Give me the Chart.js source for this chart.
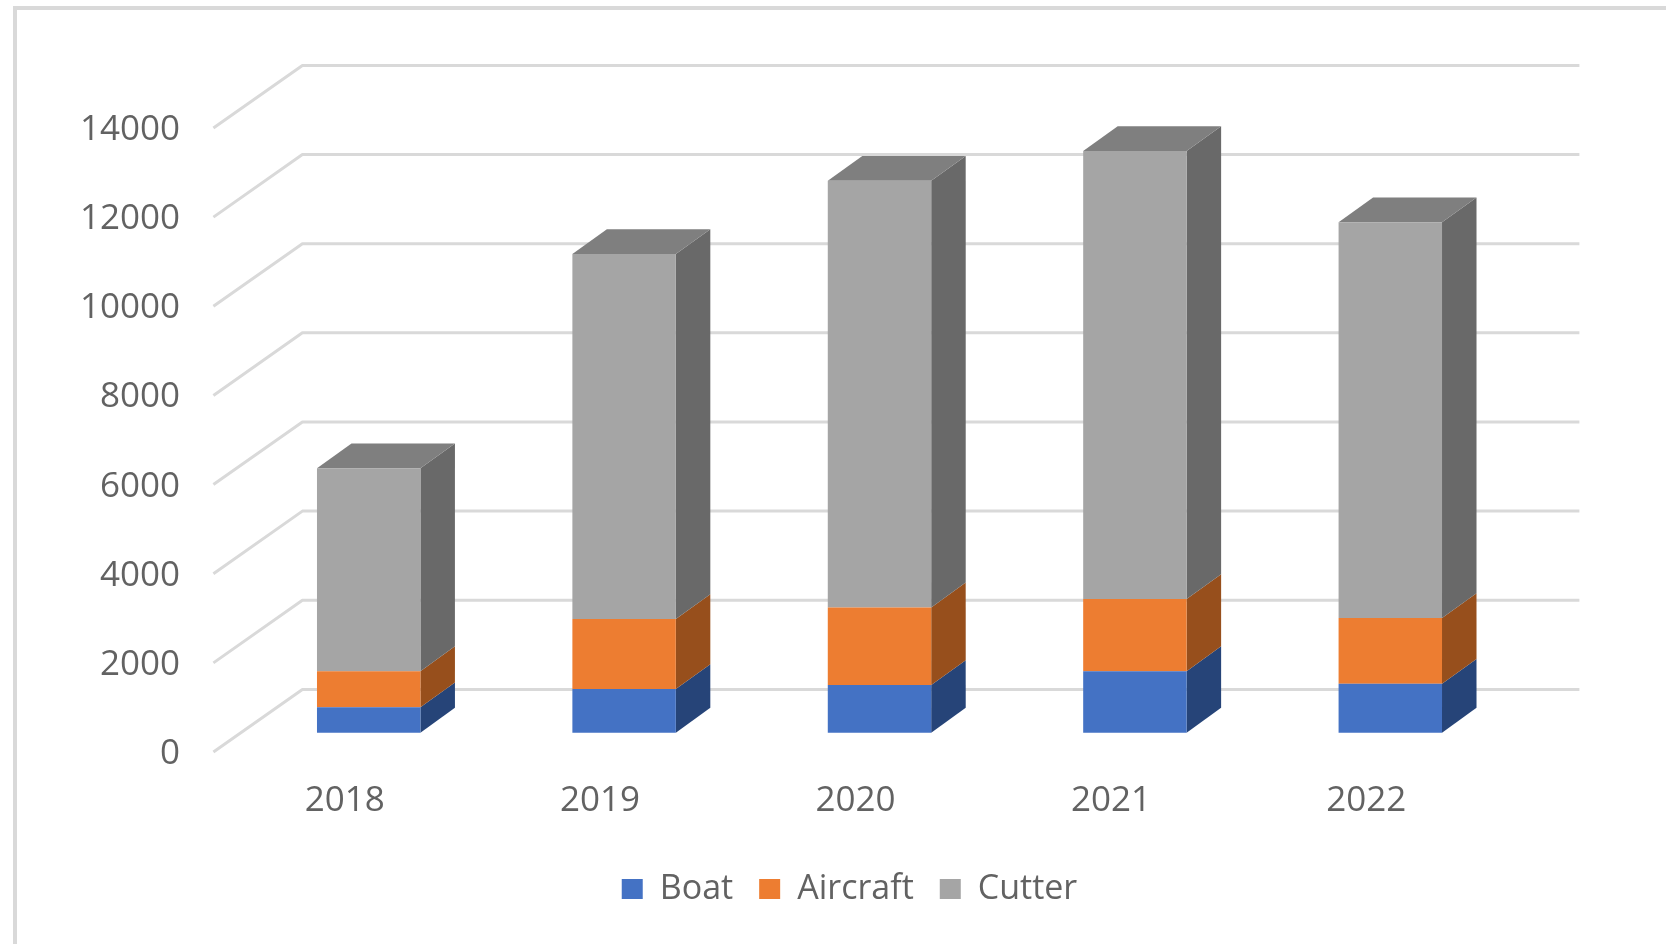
<!DOCTYPE html>
<html>
<head>
<meta charset="utf-8">
<title>Stacked columns</title>
<script src="https://cdn.jsdelivr.net/npm/chart.js@4"></script>
<style>
    html, body { margin: 0; padding: 0; background: #fff; overflow: hidden; }
    #frame { position: absolute; left: 13px; top: 6px; right: 0; bottom: 0; border-left: 4px solid #d9d9d9; border-top: 4px solid #d9d9d9; }
    #chart { position: absolute; left: 0; top: 0; }
</style>
</head>
<body>
<div id="frame"></div>
<canvas id="chart" width="1666" height="944"></canvas>
<script>
const years = ["2018", "2019", "2020", "2021", "2022"];
const boat = [570, 980, 1070, 1380, 1095];
const aircraft = [810, 1570, 1740, 1620, 1475];
const cutter = [4550, 8190, 9570, 10050, 8880];
const yTicks = [0, 2000, 4000, 6000, 8000, 10000, 12000, 14000];

const textColor = "#626262";
const gridColor = "#d9d9d9";
const sideColors = ["#264478", "#974f1c", "#696969"];
const topColor = "#7f7f7f";

// the flat chart area is the plane the bars stand in, the wall sits behind it
const wallDepth = { x: 89, y: -62.6 };
const floorShift = { x: 27.6, y: 19.4 };
const barDepth = { x: 34.5, y: -24.8 };

function poly(ctx, pts, color) {
    ctx.fillStyle = color;
    ctx.beginPath();
    pts.forEach((p, i) => i ? ctx.lineTo(p[0], p[1]) : ctx.moveTo(p[0], p[1]));
    ctx.closePath();
    ctx.fill();
}

const depthPlugin = {
    id: "depth",
    beforeDatasetsDraw(chart) {
        const ctx = chart.ctx;
        const yScale = chart.scales.y;
        const x0 = chart.chartArea.left - floorShift.x;
        const x1 = chart.chartArea.right - floorShift.x;

        // wall lines, one per tick
        ctx.save();
        ctx.strokeStyle = gridColor;
        ctx.lineWidth = 3;
        ctx.lineJoin = "round";
        yTicks.forEach(v => {
            const y = yScale.getPixelForValue(v);
            ctx.beginPath();
            ctx.moveTo(x0, y);
            ctx.lineTo(x0 + wallDepth.x, y + wallDepth.y);
            ctx.lineTo(x1 + wallDepth.x, y + wallDepth.y);
            ctx.stroke();
        });

        // side and top faces of each column
        const last = chart.data.datasets.length - 1;
        chart.data.datasets.forEach((ds, i) => {
            chart.getDatasetMeta(i).data.forEach(bar => {
                const p = bar.getProps(["x", "y", "base", "width"], true);
                const right = p.x + p.width / 2;
                const left = p.x - p.width / 2;
                poly(ctx, [
                    [right, p.base],
                    [right, p.y],
                    [right + barDepth.x, p.y + barDepth.y],
                    [right + barDepth.x, p.base + barDepth.y]
                ], sideColors[i]);
                if (i === last) {
                    poly(ctx, [
                        [left, p.y],
                        [right, p.y],
                        [right + barDepth.x, p.y + barDepth.y],
                        [left + barDepth.x, p.y + barDepth.y]
                    ], topColor);
                }
            });
        });
        ctx.restore();
    }
};

new Chart(document.getElementById("chart").getContext("2d"), {
    type: "bar",
    data: {
        labels: years,
        datasets: [
            { label: "Boat", data: boat, backgroundColor: "#4472c4", yAxisID: "bars" },
            { label: "Aircraft", data: aircraft, backgroundColor: "#ed7d31", yAxisID: "bars" },
            { label: "Cutter", data: cutter, backgroundColor: "#a5a5a5", yAxisID: "bars" }
        ]
    },
    plugins: [depthPlugin],
    options: {
        responsive: false,
        animation: false,
        devicePixelRatio: 1,
        categoryPercentage: 1,
        barPercentage: 0.405,
        layout: { padding: { left: 33, right: 0, top: 128, bottom: 28 } },
        plugins: {
            tooltip: { enabled: false },
            legend: {
                position: "bottom",
                labels: {
                    boxWidth: 21,
                    boxHeight: 20,
                    padding: 26,
                    color: textColor,
                    font: { family: "'Open Sans'", size: 34 }
                }
            }
        },
        scales: {
            x: {
                stacked: true,
                grid: { display: false },
                border: { display: false },
                ticks: {
                    color: textColor,
                    labelOffset: -24,
                    padding: 20,
                    maxRotation: 0,
                    font: { family: "'Open Sans'", size: 35 }
                },
                afterFit(scale) { scale.height = 94; }
            },
            y: {
                min: 0,
                max: 14000,
                grid: { display: false },
                border: { display: false },
                ticks: {
                    color: textColor,
                    stepSize: 2000,
                    padding: 53,
                    labelOffset: 2,
                    font: { family: "'Open Sans'", size: 35 },
                    callback: v => String(v)
                },
                afterFit(scale) { scale.width = 208; }
            },
            // same pixels per unit as y, but zero is where the columns stand
            bars: {
                display: false,
                stacked: true,
                min: -434,
                max: 13566
            },
            // empty axis, keeps the plot clear of the right edge without moving the legend
            spacer: {
                position: "right",
                grid: { display: false },
                border: { display: false },
                ticks: { display: false },
                afterFit(scale) { scale.width = 148; }
            }
        }
    }
});
</script>
</body>
</html>
